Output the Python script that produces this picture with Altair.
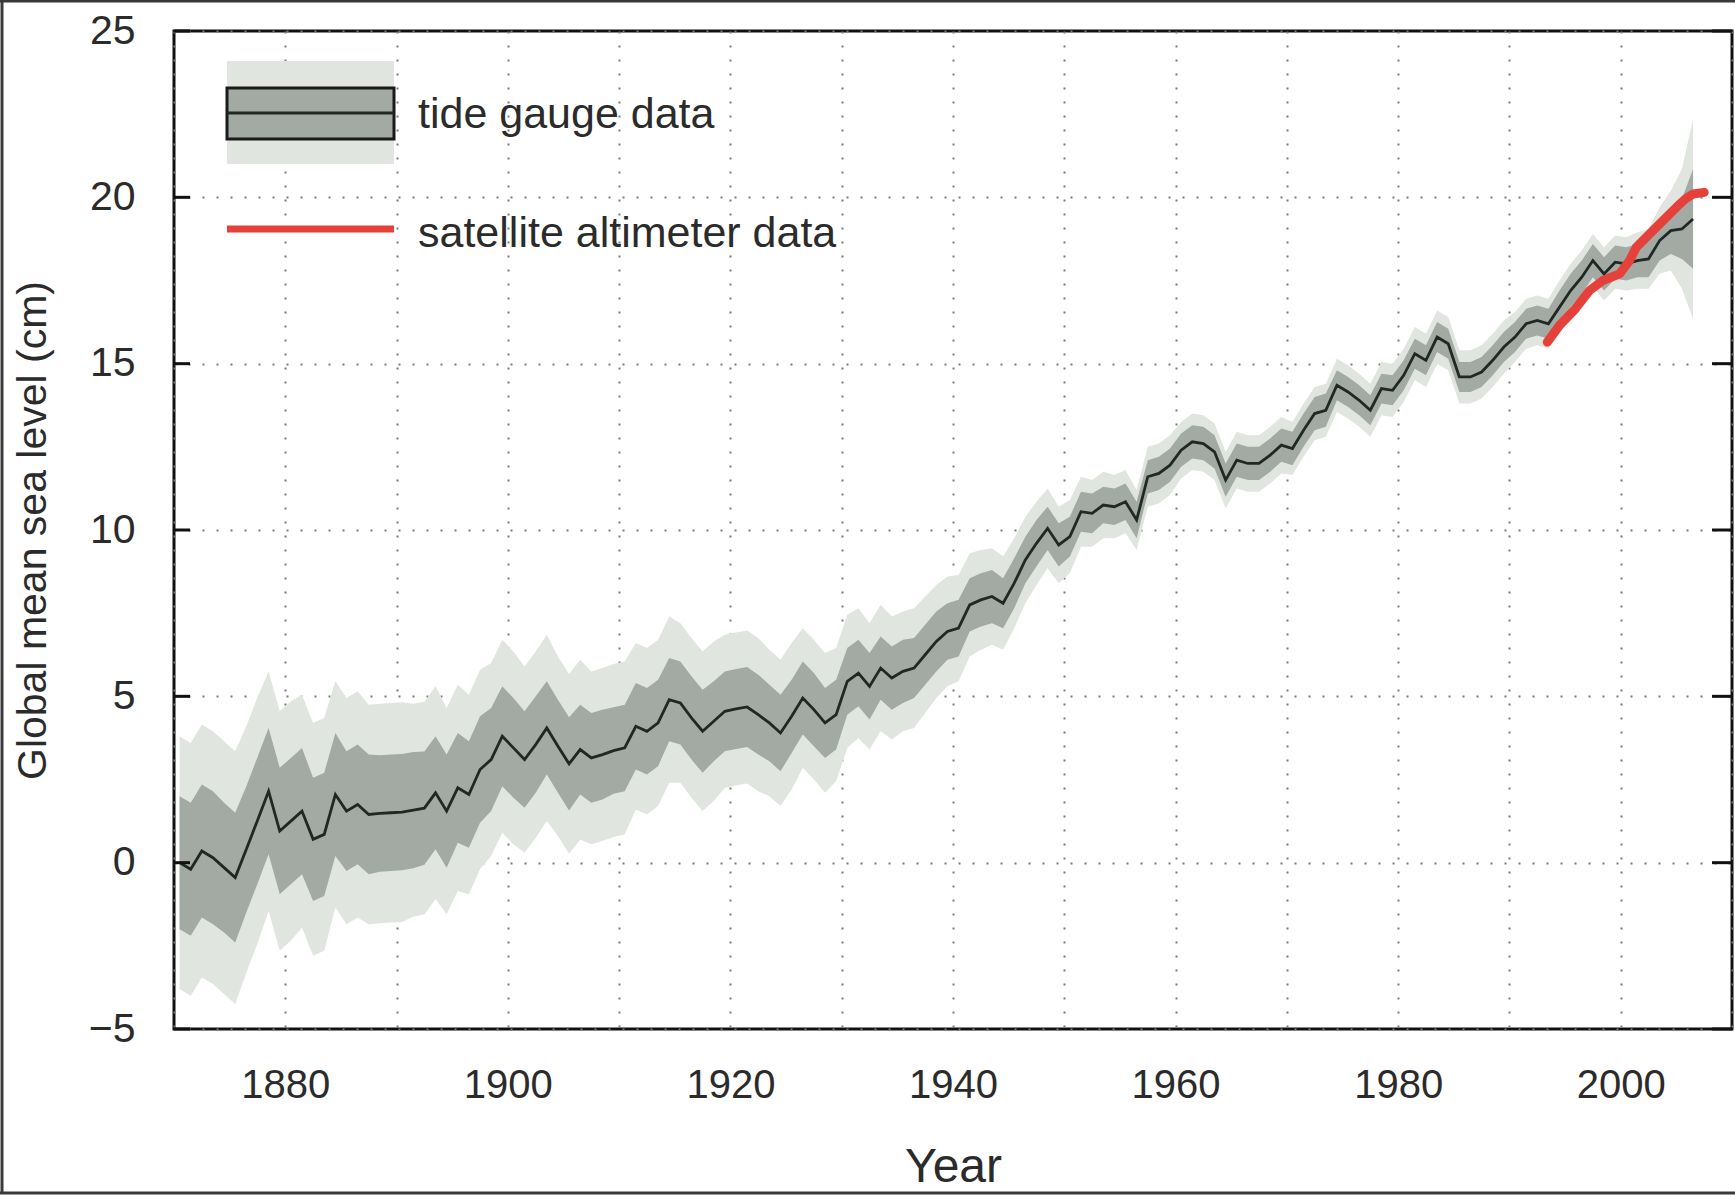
import altair as alt
import pandas as pd

# ---------------- data ----------------
# annual tide-gauge global mean sea level (cm), mid-year values from 1870.5
tide_values = [
    0.0, -0.2, 0.35, 0.15, -0.15, -0.45, 0.4, 1.27, 2.15, 0.95,
    1.25, 1.55, 0.7, 0.85, 2.05, 1.55, 1.75, 1.45, 1.48, 1.5,
    1.52, 1.58, 1.64, 2.1, 1.55, 2.25, 2.05, 2.8, 3.1, 3.8,
    3.45, 3.1, 3.55, 4.05, 3.5, 2.97, 3.4, 3.15, 3.25, 3.37,
    3.45, 4.1, 3.95, 4.2, 4.9, 4.8, 4.35, 3.95, 4.25, 4.55,
    4.62, 4.68, 4.45, 4.2, 3.9, 4.4, 4.95, 4.6, 4.2, 4.45,
    5.45, 5.7, 5.3, 5.85, 5.55, 5.75, 5.85, 6.25, 6.65, 6.95,
    7.05, 7.75, 7.9, 8.0, 7.8, 8.4, 9.1, 9.6, 10.05, 9.55,
    9.8, 10.55, 10.5, 10.75, 10.7, 10.85, 10.3, 11.6, 11.7, 11.95,
    12.4, 12.65, 12.6, 12.35, 11.5, 12.1, 12.0, 12.0, 12.25, 12.55,
    12.45, 13.0, 13.5, 13.6, 14.35, 14.15, 13.9, 13.6, 14.25, 14.2,
    14.65, 15.3, 15.1, 15.8, 15.6, 14.6, 14.6, 14.75, 15.1, 15.5,
    15.8, 16.2, 16.3, 16.2, 16.7, 17.2, 17.6, 18.1, 17.7, 18.05,
    18.0, 18.1, 18.15, 18.7, 19.0, 19.05, 19.35,
]
# half-width of the dark (inner) uncertainty band
tide_inner = [
    2.0, 2.0, 2.0, 2.0, 1.95, 1.95, 1.9, 1.9, 1.9, 1.9,
    1.9, 1.9, 1.85, 1.85, 1.85, 1.8, 1.8, 1.8, 1.75, 1.75,
    1.75, 1.75, 1.7, 1.7, 1.7, 1.65, 1.6, 1.6, 1.55, 1.5,
    1.5, 1.45, 1.45, 1.4, 1.4, 1.4, 1.35, 1.35, 1.35, 1.3,
    1.3, 1.3, 1.3, 1.3, 1.25, 1.25, 1.25, 1.25, 1.2, 1.2,
    1.2, 1.2, 1.2, 1.15, 1.15, 1.1, 1.1, 1.1, 1.05, 1.05,
    1.0, 1.0, 1.0, 0.95, 0.95, 0.95, 0.9, 0.9, 0.9, 0.85,
    0.85, 0.8, 0.8, 0.8, 0.75, 0.75, 0.7, 0.7, 0.65, 0.65,
    0.6, 0.6, 0.6, 0.55, 0.55, 0.55, 0.55, 0.5, 0.5, 0.5,
    0.5, 0.5, 0.5, 0.5, 0.5, 0.5, 0.5, 0.5, 0.5, 0.5,
    0.5, 0.5, 0.5, 0.5, 0.45, 0.45, 0.45, 0.45, 0.45, 0.45,
    0.45, 0.45, 0.45, 0.45, 0.45, 0.45, 0.45, 0.45, 0.45, 0.45,
    0.45, 0.45, 0.45, 0.45, 0.5, 0.5, 0.5, 0.5, 0.5, 0.5,
    0.5, 0.5, 0.55, 0.6, 0.7, 0.9, 1.5,
]
# half-width of the light (outer) uncertainty band
tide_outer = [
    3.8, 3.8, 3.8, 3.8, 3.8, 3.8, 3.7, 3.7, 3.6, 3.6,
    3.6, 3.5, 3.5, 3.5, 3.4, 3.4, 3.4, 3.3, 3.3, 3.3,
    3.3, 3.2, 3.2, 3.2, 3.1, 3.1, 3.0, 3.0, 2.9, 2.9,
    2.9, 2.8, 2.8, 2.8, 2.7, 2.7, 2.7, 2.6, 2.6, 2.6,
    2.6, 2.5, 2.5, 2.5, 2.5, 2.4, 2.4, 2.4, 2.4, 2.3,
    2.3, 2.3, 2.3, 2.2, 2.2, 2.2, 2.1, 2.1, 2.1, 2.0,
    2.0, 1.95, 1.9, 1.9, 1.85, 1.8, 1.8, 1.75, 1.7, 1.65,
    1.6, 1.55, 1.5, 1.45, 1.4, 1.35, 1.3, 1.25, 1.2, 1.15,
    1.1, 1.05, 1.0, 1.0, 0.95, 0.95, 0.9, 0.9, 0.9, 0.9,
    0.85, 0.85, 0.85, 0.85, 0.85, 0.85, 0.85, 0.85, 0.85, 0.85,
    0.8, 0.8, 0.8, 0.8, 0.8, 0.8, 0.8, 0.8, 0.8, 0.8,
    0.8, 0.8, 0.8, 0.8, 0.8, 0.8, 0.8, 0.8, 0.8, 0.8,
    0.75, 0.75, 0.75, 0.75, 0.8, 0.8, 0.8, 0.8, 0.8, 0.8,
    0.8, 0.85, 0.9, 1.0, 1.2, 1.8, 3.0,
]
tide_years = [1870.5 + i for i in range(len(tide_values))]

# satellite altimeter data
sat_years = [1993.4, 1994.5, 1995.8, 1997.2, 1998.4, 1999.9, 2000.8, 2001.4,
             2002.3, 2003.2, 2004.1, 2005.0, 2005.8, 2006.5, 2007.5]
sat_values = [15.65, 16.15, 16.6, 17.2, 17.5, 17.7, 18.1, 18.5,
              18.8, 19.1, 19.4, 19.7, 19.95, 20.1, 20.15]

x_grid_values = [1870, 1880, 1890, 1900, 1910, 1920, 1930, 1940, 1950,
                 1960, 1970, 1980, 1990, 2000, 2010]
y_tick_values = [-5, 0, 5, 10, 15, 20, 25]

legend_labels = ["tide gauge data", "satellite altimeter data"]

# ---------------- styling ----------------
FONT = "Liberation Sans, Arial, Helvetica, sans-serif"
TEXT = "#2b2b2b"
W, H = 1558, 998
LIGHT = "#e1e5df"
DARK = "#a2aaa3"
LINE = "#1f2823"
RED = "#e5403a"

tide = pd.DataFrame({
    "year": tide_years,
    "gmsl": tide_values,
    "lo1": [v - s for v, s in zip(tide_values, tide_inner)],
    "hi1": [v + s for v, s in zip(tide_values, tide_inner)],
    "lo2": [v - s for v, s in zip(tide_values, tide_outer)],
    "hi2": [v + s for v, s in zip(tide_values, tide_outer)],
})
sat = pd.DataFrame({"year": sat_years, "gmsl": sat_values})
yticks = pd.DataFrame({"v": y_tick_values})
one = pd.DataFrame({"k": [0]})

xscale = alt.Scale(domain=[1870, 2010], nice=False, zero=False)
yscale = alt.Scale(domain=[-5, 25], nice=False, zero=False)

x_axis = alt.Axis(
    values=x_grid_values, format="d",
    labelExpr="(datum.value % 20 == 0 && datum.value > 1870 && datum.value < 2010) ? datum.label : ''",
    grid=True, gridDash=[2, 12], gridColor="#7a7a7a", gridWidth=2,
    ticks=False, tickSize=0, domain=False,
    labelFont=FONT, labelFontSize=40, labelColor=TEXT, labelPadding=36,
    title="Year", titleFont=FONT, titleFontSize=48, titleFontWeight="normal",
    titleColor=TEXT, titleY=138, titleBaseline="middle",
)
y_axis = alt.Axis(
    values=y_tick_values, format="d",
    grid=True, gridDash=[2, 12], gridColor="#7a7a7a", gridWidth=2,
    ticks=False, tickSize=0, domain=False,
    labelFont=FONT, labelFontSize=41, labelColor=TEXT, labelPadding=39,
    title="Global mean sea level (cm)", titleFont=FONT, titleFontSize=41,
    titleFontWeight="normal", titleColor=TEXT,
    titleX=-141, titleY=H / 2, titleBaseline="middle", titleAlign="center",
)

base = alt.Chart(tide)

outer_band = base.mark_area(color=LIGHT, opacity=1).encode(
    x=alt.X("year:Q", scale=xscale, axis=x_axis),
    y=alt.Y("lo2:Q", scale=yscale, axis=y_axis),
    y2="hi2:Q",
)
inner_band = base.mark_area(color=DARK, opacity=1).encode(
    x=alt.X("year:Q", scale=xscale),
    y=alt.Y("lo1:Q", scale=yscale),
    y2="hi1:Q",
)
tide_line = base.mark_line(color=LINE, strokeWidth=2.8).encode(
    x=alt.X("year:Q", scale=xscale),
    y=alt.Y("gmsl:Q", scale=yscale),
)
sat_line = alt.Chart(sat).mark_line(color=RED, strokeWidth=9, strokeCap="round",
                                    strokeJoin="round").encode(
    x=alt.X("year:Q", scale=xscale),
    y=alt.Y("gmsl:Q", scale=yscale),
)

# inward tick marks on left and right frame
ticks_left = alt.Chart(yticks).mark_rule(color="#111", strokeWidth=3).encode(
    y=alt.Y("v:Q", scale=yscale), x=alt.value(0), x2=alt.value(16))
ticks_right = alt.Chart(yticks).mark_rule(color="#111", strokeWidth=3).encode(
    y=alt.Y("v:Q", scale=yscale), x=alt.value(W - 20), x2=alt.value(W))

# legend (drawn inside the plot, top-left)
leg_light = alt.Chart(one).mark_rect(color=LIGHT).encode(
    x=alt.value(53), x2=alt.value(220), y=alt.value(30), y2=alt.value(133))
leg_dark = alt.Chart(one).mark_rect(fill=DARK, stroke="#1a1a1a", strokeWidth=3).encode(
    x=alt.value(53), x2=alt.value(220), y=alt.value(57), y2=alt.value(108))
leg_mid = alt.Chart(one).mark_rule(color=LINE, strokeWidth=3).encode(
    x=alt.value(53), x2=alt.value(220), y=alt.value(82))
leg_red = alt.Chart(one).mark_rule(color=RED, strokeWidth=7).encode(
    x=alt.value(53), x2=alt.value(220), y=alt.value(198))
leg_t1 = alt.Chart(one).mark_text(
    text=legend_labels[0], font=FONT, fontSize=43, color=TEXT,
    align="left", baseline="alphabetic").encode(x=alt.value(244), y=alt.value(97))
leg_t2 = alt.Chart(one).mark_text(
    text=legend_labels[1], font=FONT, fontSize=43, color=TEXT,
    align="left", baseline="alphabetic").encode(x=alt.value(244), y=alt.value(216))

# scanned page border
border_top = alt.Chart(one).mark_rule(color="#3a3a3a", strokeWidth=3).encode(
    x=alt.value(-174), x2=alt.value(W + 3), y=alt.value(-30))
border_bottom = alt.Chart(one).mark_rule(color="#3a3a3a", strokeWidth=3).encode(
    x=alt.value(-174), x2=alt.value(W + 3), y=alt.value(H + 164))
border_left = alt.Chart(one).mark_rule(color="#3a3a3a", strokeWidth=3).encode(
    x=alt.value(-172), y=alt.value(-31), y2=alt.value(H + 165))

chart = alt.layer(
    outer_band, inner_band, tide_line, sat_line,
    ticks_left, ticks_right,
    leg_light, leg_dark, leg_mid, leg_red, leg_t1, leg_t2,
    border_top, border_bottom, border_left,
).properties(
    width=W, height=H,
    padding={"left": 174, "top": 31, "right": 3, "bottom": 167},
    autosize=alt.AutoSizeParams(type="none"),
    background="white",
).configure_view(
    stroke="#111111", strokeWidth=3,
)

chart.save("out.html", embed_options={"renderer": "svg", "actions": False})
